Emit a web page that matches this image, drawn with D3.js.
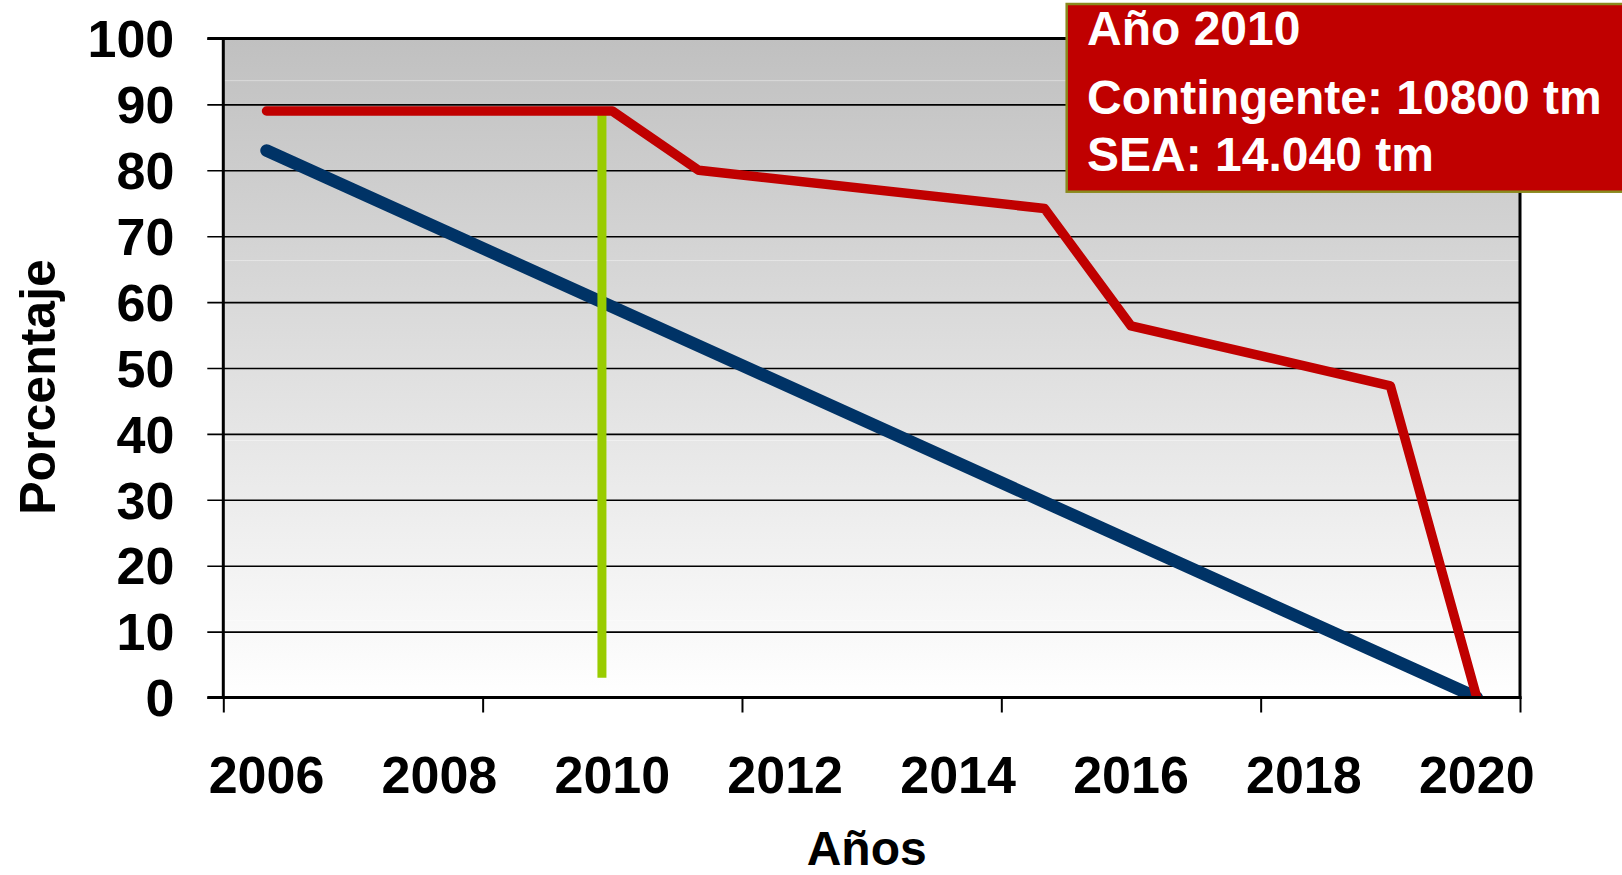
<!DOCTYPE html>
<html>
<head>
<meta charset="utf-8">
<script src="https://cdn.jsdelivr.net/npm/d3@7"></script>
<style>
  html, body { margin: 0; padding: 0; background: #fff; overflow: hidden; }
  text { font-family: "Liberation Sans", Arial, sans-serif; font-weight: bold; }
</style>
</head>
<body>
<div id="chart"></div>
<script>
// tick labels
const yearLabels = [2006, 2008, 2010, 2012, 2014, 2016, 2018, 2020];
const yearTickMarks = [2005.5, 2008.5, 2011.5, 2014.5, 2017.5, 2020.5];
const percentTicks = [0, 10, 20, 30, 40, 50, 60, 70, 80, 90, 100];

// series
const redYears = [2006, 2010, 2011, 2015, 2016, 2019, 2020];
const redValues = [89, 89, 80, 74.2, 56.4, 47.3, 0];
const blueYears = [2006, 2020];
const blueValues = [83, 0];
const markerYear = 2009.88;
const markerRange = [3, 89];

const noteLines = ['Año 2010', 'Contingente: 10800 tm', 'SEA: 14.040 tm'];

const W = 1622, H = 875;
const margin = { top: 38.5, left: 223.3, right: 102, bottom: 177.5 };
const width = W - margin.left - margin.right;
const height = H - margin.top - margin.bottom;

const svg = d3.select('#chart')
  .append('svg')
    .attr('width', W)
    .attr('height', H);

const defs = svg.append('defs');
const grad = defs.append('linearGradient')
    .attr('id', 'bg')
    .attr('x1', 0).attr('y1', 0)
    .attr('x2', 0).attr('y2', 1);
grad.append('stop').attr('offset', '0%').attr('stop-color', '#c0c0c0');
grad.append('stop').attr('offset', '100%').attr('stop-color', '#ffffff');

defs.append('clipPath')
    .attr('id', 'plotclip')
  .append('rect')
    .attr('x', 0)
    .attr('y', -10)
    .attr('width', width)
    .attr('height', height + 11);

const g = svg.append('g')
    .attr('transform', `translate(${margin.left},${margin.top})`);

const x = d3.scaleLinear()
    .domain([2005.5, 2020.5])
    .range([0, width]);
const y = d3.scaleLinear()
    .domain([0, 100])
    .range([height, 0]);

g.append('rect')
    .attr('width', width)
    .attr('height', height)
    .attr('fill', 'url(#bg)');

// faint banding lines of the gradient
[93.6, 66.3, 39, 11.7].forEach(v => {
  g.append('line')
      .attr('x1', 0).attr('x2', width + 4)
      .attr('y1', y(v)).attr('y2', y(v))
      .attr('stroke', '#fff')
      .attr('stroke-opacity', 0.4)
      .attr('stroke-width', 1);
});

// gridlines and y ticks
const yAxis = d3.axisLeft(y)
    .tickValues(percentTicks)
    .tickSize(-width)
    .tickSizeOuter(0)
    .tickFormat('');
g.append('g')
    .attr('class', 'grid')
    .call(yAxis)
    .call(s => s.select('.domain').remove())
    .call(s => s.selectAll('.tick line')
      .attr('x1', -16)
      .attr('stroke', '#000')
      .attr('stroke-width', 1.6));

// y labels
g.selectAll('.ylabel')
  .data(percentTicks)
  .enter()
  .append('text')
    .attr('class', 'ylabel')
    .attr('x', -49)
    .attr('y', d => y(d))
    .attr('dy', '0.36em')
    .attr('text-anchor', 'end')
    .attr('font-size', 52)
    .attr('fill', '#000')
    .text(d => d);

// x tick marks
g.append('g')
    .attr('transform', `translate(0,${height})`)
    .call(d3.axisBottom(x).tickValues(yearTickMarks).tickSize(15).tickSizeOuter(0).tickFormat(''))
    .call(s => s.select('.domain').remove())
    .call(s => s.selectAll('.tick line').attr('stroke', '#000').attr('stroke-width', 2));

// x labels
g.selectAll('.xlabel')
  .data(yearLabels)
  .enter()
  .append('text')
    .attr('class', 'xlabel')
    .attr('x', d => x(d))
    .attr('y', height + 95.5)
    .attr('text-anchor', 'middle')
    .attr('font-size', 52)
    .attr('fill', '#000')
    .text(d => d);

// lines
const lines = g.append('g').attr('clip-path', 'url(#plotclip)');
const line = d3.line()
    .x(d => x(d[0]))
    .y(d => y(d[1]));

lines.append('path')
    .datum(blueYears.map((yr, i) => [yr, blueValues[i]]))
    .attr('d', line)
    .attr('fill', 'none')
    .attr('stroke', '#003366')
    .attr('stroke-width', 12.5)
    .attr('stroke-linecap', 'round')
    .attr('stroke-linejoin', 'round');

lines.append('line')
    .attr('x1', x(markerYear)).attr('x2', x(markerYear))
    .attr('y1', y(markerRange[1])).attr('y2', y(markerRange[0]))
    .attr('stroke', '#99cc00')
    .attr('stroke-width', 9);

lines.append('path')
    .datum(redYears.map((yr, i) => [yr, redValues[i]]))
    .attr('d', line)
    .attr('fill', 'none')
    .attr('stroke', '#c00000')
    .attr('stroke-width', 9.5)
    .attr('stroke-linecap', 'round')
    .attr('stroke-linejoin', 'round');

// frame
g.append('line')
    .attr('x1', -16).attr('x2', width)
    .attr('y1', 0).attr('y2', 0)
    .attr('stroke', '#000').attr('stroke-width', 3);
g.append('line')
    .attr('x1', -16).attr('x2', width + 1.5)
    .attr('y1', height).attr('y2', height)
    .attr('stroke', '#000').attr('stroke-width', 3);
g.append('line')
    .attr('x1', 0).attr('x2', 0)
    .attr('y1', -1.5).attr('y2', height + 1.5)
    .attr('stroke', '#000').attr('stroke-width', 3);
g.append('line')
    .attr('x1', width).attr('x2', width)
    .attr('y1', -1.5).attr('y2', height + 1.5)
    .attr('stroke', '#000').attr('stroke-width', 3);

// axis titles
svg.append('text')
    .attr('x', margin.left + width / 2 - 5)
    .attr('y', 865)
    .attr('text-anchor', 'middle')
    .attr('font-size', 48)
    .attr('fill', '#000')
    .text('Años');

svg.append('text')
    .attr('transform', 'translate(55,387) rotate(-90)')
    .attr('text-anchor', 'middle')
    .attr('font-size', 50)
    .attr('fill', '#000')
    .text('Porcentaje');

// note box
const note = svg.append('g');
note.append('rect')
    .attr('x', 1066.7)
    .attr('y', 4)
    .attr('width', 620)
    .attr('height', 187.7)
    .attr('fill', '#c00000')
    .attr('stroke', '#8a8a1e')
    .attr('stroke-width', 2.5);

note.selectAll('text')
  .data(noteLines)
  .enter()
  .append('text')
    .attr('x', 1087)
    .attr('y', (d, i) => [45, 113.5, 170.5][i])
    .attr('font-size', 48)
    .attr('fill', '#fff')
    .text(d => d);
</script>
</body>
</html>
